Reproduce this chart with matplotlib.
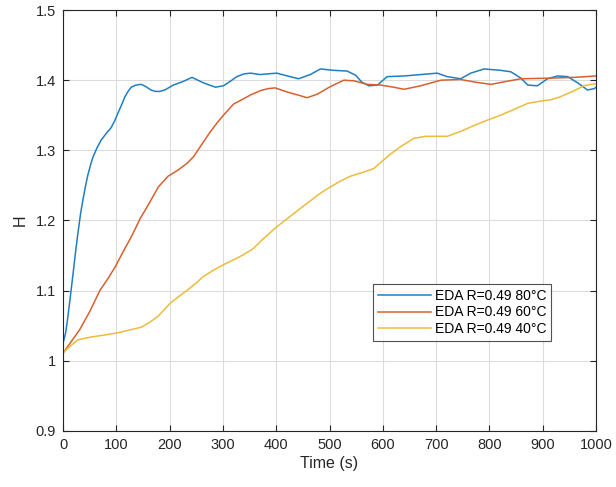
import matplotlib
matplotlib.use("Agg")
import matplotlib.pyplot as plt

t_80 = [0, 5, 9, 14, 19, 24, 28, 33, 38, 43, 47, 52, 56, 64, 72, 81, 90, 97, 103, 110, 116, 122, 128, 137, 147, 155, 165, 173, 182, 191, 207, 225, 242, 264, 286, 301, 315, 326, 340, 352, 370, 385, 401, 421, 442, 464, 483, 508, 533, 549, 561, 574, 590, 608, 640, 671, 702, 721, 746, 765, 790, 821, 840, 859, 872, 890, 909, 928, 947, 966, 984, 997, 1000]
h_80 = [1.025, 1.040, 1.062, 1.093, 1.125, 1.158, 1.182, 1.210, 1.232, 1.252, 1.266, 1.280, 1.290, 1.304, 1.315, 1.324, 1.332, 1.342, 1.353, 1.365, 1.376, 1.384, 1.390, 1.393, 1.394, 1.391, 1.386, 1.384, 1.384, 1.386, 1.393, 1.398, 1.404, 1.396, 1.390, 1.392, 1.399, 1.405, 1.409, 1.410, 1.408, 1.409, 1.410, 1.406, 1.402, 1.408, 1.416, 1.414, 1.413, 1.407, 1.397, 1.392, 1.393, 1.405, 1.406, 1.408, 1.410, 1.405, 1.402, 1.410, 1.416, 1.414, 1.412, 1.403, 1.393, 1.392, 1.402, 1.406, 1.405, 1.396, 1.386, 1.388, 1.390]

t_60 = [0, 15, 31, 50, 69, 85, 98, 116, 129, 145, 162, 179, 197, 216, 232, 245, 260, 276, 290, 301, 320, 340, 352, 370, 385, 398, 421, 440, 458, 477, 502, 527, 546, 571, 596, 620, 640, 671, 709, 746, 775, 803, 830, 859, 921, 960, 1000]
h_60 = [1.011, 1.027, 1.044, 1.070, 1.100, 1.118, 1.134, 1.160, 1.178, 1.203, 1.225, 1.248, 1.263, 1.272, 1.281, 1.291, 1.308, 1.326, 1.340, 1.350, 1.366, 1.374, 1.379, 1.385, 1.388, 1.389, 1.383, 1.379, 1.375, 1.380, 1.391, 1.400, 1.399, 1.394, 1.393, 1.390, 1.387, 1.392, 1.400, 1.401, 1.397, 1.394, 1.398, 1.402, 1.403, 1.404, 1.406]

t_40 = [0, 9, 28, 53, 80, 103, 125, 147, 163, 179, 201, 216, 232, 250, 263, 282, 301, 320, 338, 357, 373, 401, 423, 445, 464, 483, 502, 520, 539, 560, 583, 601, 615, 633, 658, 680, 696, 721, 746, 770, 796, 821, 845, 872, 895, 915, 932, 947, 962, 977, 990, 1000]
h_40 = [1.011, 1.018, 1.030, 1.034, 1.037, 1.040, 1.044, 1.048, 1.055, 1.064, 1.082, 1.091, 1.100, 1.111, 1.120, 1.129, 1.137, 1.144, 1.151, 1.160, 1.172, 1.191, 1.204, 1.217, 1.228, 1.239, 1.248, 1.256, 1.263, 1.268, 1.274, 1.286, 1.295, 1.305, 1.317, 1.320, 1.320, 1.320, 1.327, 1.335, 1.343, 1.350, 1.358, 1.367, 1.370, 1.372, 1.376, 1.381, 1.386, 1.392, 1.394, 1.395]

labels = ["EDA R=0.49 80°C", "EDA R=0.49 60°C", "EDA R=0.49 40°C"]
colors = ["#1f7fc0", "#d9602e", "#ecbc3a"]

x_ticks = list(range(0, 1001, 100))
y_ticks = [0.9, 1.0, 1.1, 1.2, 1.3, 1.4, 1.5]
y_ticklabels = ["0.9", "1", "1.1", "1.2", "1.3", "1.4", "1.5"]

plt.rcParams['font.family'] = ['Liberation Sans', 'DejaVu Sans']
fig = plt.figure(figsize=(6.16, 4.87), dpi=100)
ax = fig.add_axes([63/616, 1 - 431/487, 533/616, 421/487])

for t, h, lab, c in zip([t_80, t_60, t_40], [h_80, h_60, h_40], labels, colors):
    ax.plot(t, h, color=c, lw=1.1, label=lab, solid_joinstyle="round")

ax.set_xlim(0, 1000)
ax.set_ylim(0.9, 1.5)
ax.set_xticks(x_ticks)
ax.set_yticks(y_ticks)
ax.set_yticklabels(y_ticklabels)
ax.grid(True, color="#dcdcdc", lw=0.8)
ax.set_axisbelow(True)
for s in ax.spines.values():
    s.set_color("#262626")
    s.set_linewidth(0.8)
ax.tick_params(direction="in", top=True, right=True, length=4, width=0.8,
               colors="#262626", labelsize=10.5, labelcolor="#262626", pad=5)
ax.set_xlabel("Time (s)", fontsize=11.5, color="#262626", labelpad=3)
ax.set_ylabel("H", fontsize=11.5, color="#262626", labelpad=6)

leg = ax.legend(loc="lower left", bbox_to_anchor=((373-63)/533, (431-341)/421),
                fontsize=10, frameon=True, fancybox=False, borderpad=0.35,
                handlelength=3.8, handletextpad=0.3, labelspacing=0.2,
                borderaxespad=0)
leg.get_frame().set_edgecolor("#262626")
leg.get_frame().set_linewidth(0.8)

fig.savefig("out.png", dpi=100)
